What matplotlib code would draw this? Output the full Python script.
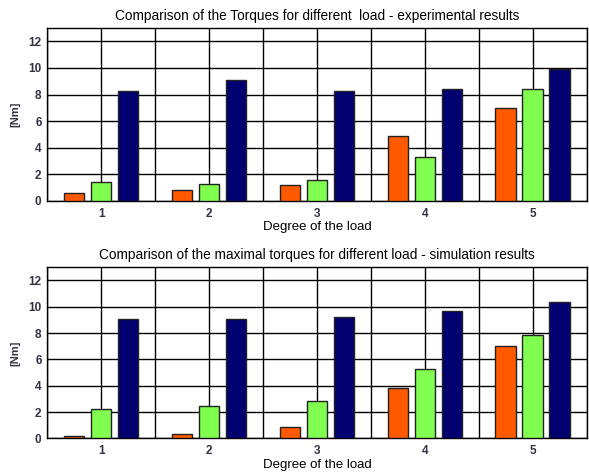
import numpy as np
import matplotlib.pyplot as plt

plt.rcParams['font.family'] = ['Liberation Sans', 'DejaVu Sans']

loads = [1, 2, 3, 4, 5]
exp_orange = [0.6, 0.8, 1.2, 4.9, 7.0]
exp_green = [1.4, 1.3, 1.6, 3.3, 8.4]
exp_blue = [8.3, 9.1, 8.3, 8.4, 9.9]
sim_orange = [0.2, 0.35, 0.9, 3.8, 7.0]
sim_green = [2.25, 2.45, 2.85, 5.25, 7.85]
sim_blue = [9.05, 9.05, 9.25, 9.7, 10.35]

titles = ["Comparison of the Torques for different  load - experimental results",
          "Comparison of the maximal torques for different load - simulation results"]
colors = ["#ff5a00", "#80ff50", "#000070"]

fig = plt.figure(figsize=(5.89, 4.74), dpi=100)
ax1 = fig.add_axes([0.080, 0.576, 0.916, 0.365])
ax2 = fig.add_axes([0.080, 0.075, 0.916, 0.361])

x = np.array(loads)
w = 0.19
for ax, data, title in [(ax1, (exp_orange, exp_green, exp_blue), titles[0]),
                        (ax2, (sim_orange, sim_green, sim_blue), titles[1])]:
    for i, (vals, c) in enumerate(zip(data, colors)):
        ax.bar(x + (i - 1) * 0.25, vals, w, color=c, edgecolor="#222222",
               linewidth=1, zorder=3)
    ax.set_xlim(0.5, 5.5)
    ax.set_ylim(0, 13)
    ax.set_xticks(loads)
    ax.set_xticks(np.arange(0.5, 5.6, 1.0), minor=True)
    ax.set_yticks(range(0, 13, 2))
    ax.grid(True, which="both", axis="x", color="black", linewidth=1, zorder=0)
    ax.grid(True, axis="y", color="black", linewidth=1, zorder=0)
    ax.tick_params(which="both", length=0, labelsize=8.5, colors="#333344", pad=4)
    ax.tick_params(axis="x", pad=5)
    for lab in ax.get_xticklabels() + ax.get_yticklabels():
        lab.set_fontweight("bold")
    ax.set_title(title, fontsize=9.8, pad=6)
    ax.set_xlabel("Degree of the load", fontsize=9.5, labelpad=1)
    ax.set_ylabel("[Nm]", fontsize=8, fontweight="bold", color="#333344", labelpad=6)
    for s in ax.spines.values():
        s.set_linewidth(1)

fig.savefig("out.png", dpi=100)
